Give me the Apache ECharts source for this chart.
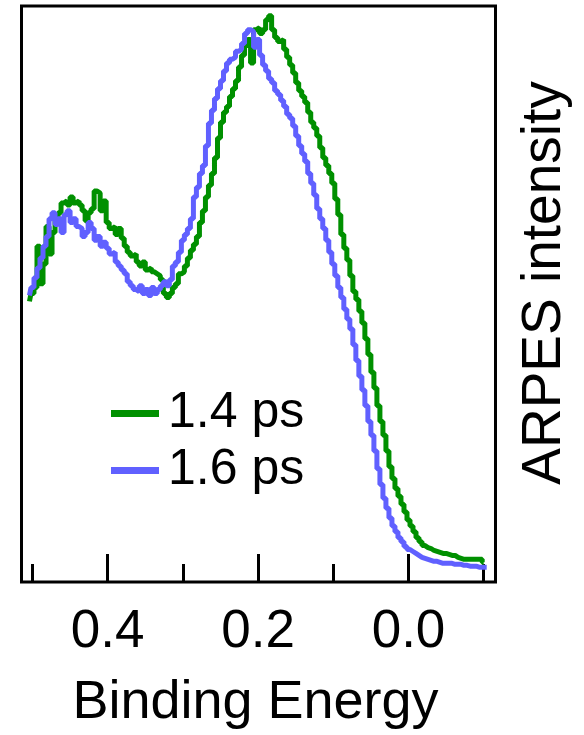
<!DOCTYPE html>
<html>
<head>
<meta charset="utf-8">
<script src="https://cdn.jsdelivr.net/npm/echarts@6.0.0/dist/echarts.min.js"></script>
<style>
  html, body { margin: 0; padding: 0; background: #fff; }
  #chart { width: 584px; height: 735px; }
</style>
</head>
<body>
<div id="chart"></div>
<script>
// binding energy (eV), shared by both traces
const energy = [
  0.504, 0.500, 0.496, 0.492, 0.488, 0.484, 0.480, 0.476, 0.472, 0.468,
  0.464, 0.460, 0.456, 0.452, 0.448, 0.444, 0.440, 0.436, 0.432, 0.428,
  0.424, 0.420, 0.416, 0.412, 0.408, 0.404, 0.400, 0.396, 0.392, 0.388,
  0.384, 0.380, 0.376, 0.372, 0.368, 0.364, 0.360, 0.356, 0.352, 0.348,
  0.344, 0.340, 0.336, 0.332, 0.328, 0.324, 0.320, 0.316, 0.312, 0.308,
  0.304, 0.300, 0.296, 0.292, 0.288, 0.284, 0.280, 0.276, 0.272, 0.268,
  0.264, 0.260, 0.256, 0.252, 0.248, 0.244, 0.240, 0.236, 0.232, 0.228,
  0.224, 0.220, 0.216, 0.212, 0.208, 0.204, 0.200, 0.196, 0.192, 0.188,
  0.184, 0.180, 0.176, 0.172, 0.168, 0.164, 0.160, 0.156, 0.152, 0.148,
  0.144, 0.140, 0.136, 0.132, 0.128, 0.124, 0.120, 0.116, 0.112, 0.108,
  0.104, 0.100, 0.096, 0.092, 0.088, 0.084, 0.080, 0.076, 0.072, 0.068,
  0.064, 0.060, 0.056, 0.052, 0.048, 0.044, 0.040, 0.036, 0.032, 0.028,
  0.024, 0.020, 0.016, 0.012, 0.008, 0.004, 0.000, -0.004, -0.008, -0.012,
  -0.016, -0.020, -0.024, -0.028, -0.032, -0.036, -0.040, -0.044, -0.048, -0.052,
  -0.056, -0.060, -0.064, -0.068, -0.072, -0.076, -0.080, -0.084, -0.088, -0.092,
  -0.096, -0.100, -0.104
];

// ARPES intensity, arbitrary units
const ps14 = [
  285, 293, 299, 341, 303, 323, 361, 333, 355, 371,
  375, 385, 387, 383, 391, 385, 387, 383, 377, 367,
  375, 379, 397, 395, 377, 387, 365, 359, 361, 353,
  359, 349, 341, 335, 331, 333, 325, 321, 325, 317,
  319, 315, 313, 311, 307, 293, 289, 293, 299, 303,
  313, 315, 321, 329, 337, 343, 351, 365, 377, 391,
  403, 415, 431, 451, 467, 477, 483, 493, 501, 509,
  523, 535, 545, 551, 527, 561, 563, 557, 561, 571,
  575, 561, 553, 549, 551, 541, 533, 525, 517, 507,
  499, 493, 487, 477, 467, 461, 453, 441, 431, 423,
  415, 405, 389, 373, 353, 339, 327, 311, 295, 287,
  275, 263, 247, 231, 213, 197, 179, 163, 149, 133,
  117, 105, 95, 87, 79, 71, 63, 57, 51, 45,
  41, 37, 35, 34, 32, 31, 30, 29, 29, 28,
  27, 27, 25, 24, 23, 23, 23, 23, 23, 23,
  23, 20
];

const ps16 = [
  291, 299, 309, 319, 329, 341, 351, 369, 375, 363,
  369, 355, 373, 377, 365, 369, 361, 359, 351, 355,
  365, 359, 347, 351, 341, 345, 339, 333, 335, 325,
  321, 317, 313, 305, 301, 297, 295, 301, 293, 297,
  291, 299, 293, 297, 301, 305, 301, 307, 321, 325,
  335, 347, 353, 359, 369, 391, 401, 415, 423, 443,
  466, 479, 491, 501, 509, 519, 527, 531, 533, 539,
  541, 547, 557, 561, 559, 543, 551, 535, 525, 519,
  511, 507, 499, 495, 489, 483, 475, 471, 463, 453,
  443, 435, 427, 415, 405, 393, 379, 369, 359, 347,
  335, 323, 311, 299, 289, 277, 267, 257, 241, 225,
  209, 195, 179, 163, 149, 133, 115, 99, 85, 75,
  65, 57, 51, 45, 41, 36, 33, 31, 29, 27,
  25, 24, 23, 22, 21, 21, 20, 19, 19, 19,
  19, 18, 18, 18, 17, 17, 16, 16, 16, 15,
  15, 15, 15
];

const majorTicks = [0.0, 0.2, 0.4];
const minorTicks = [-0.1, 0.1, 0.3, 0.5];
const names = ['1.4 ps', '1.6 ps'];
const colors = ['#009000', '#6060ff'];

const font = "'Liberation Sans', Arial, Helvetica, sans-serif";
const toPairs = ys => ys.map((y, i) => [energy[i], y]);

const chart = echarts.init(document.getElementById('chart'), null, { renderer: 'canvas' });

const xRange = { min: -0.1157, max: 0.5146, inverse: true };

chart.setOption({
  animation: false,
  backgroundColor: '#fff',
  color: colors,
  grid: {
    left: 21.5, right: 88.5, top: 6, bottom: 144,
    show: true, borderColor: '#000', borderWidth: 3
  },
  legend: {
    data: names,
    orient: 'vertical',
    left: 111,
    top: 385,
    padding: 0,
    icon: 'rect',
    itemWidth: 48,
    itemHeight: 7,
    itemGap: 0,
    selectedMode: false,
    textStyle: { fontSize: 50, lineHeight: 57, color: '#000', fontFamily: font, padding: [0, 0, 0, 4] }
  },
  xAxis: [
    {
      type: 'value', ...xRange, position: 'bottom',
      name: 'Binding Energy', nameLocation: 'middle', nameGap: 94,
      nameTextStyle: { fontSize: 54, color: '#000', fontFamily: font, padding: [0, 6, 0, 0] },
      axisLine: { show: false, onZero: false },
      axisTick: { inside: true, length: 28, lineStyle: { color: '#000', width: 3 }, customValues: majorTicks },
      axisLabel: {
        customValues: majorTicks, margin: 24, fontSize: 53, color: '#000', fontFamily: font,
        formatter: v => v.toFixed(1)
      },
      splitLine: { show: false }
    },
    {
      type: 'value', ...xRange, position: 'bottom',
      axisLine: { show: false, onZero: false },
      axisTick: { inside: true, length: 18, lineStyle: { color: '#000', width: 3 }, customValues: minorTicks },
      axisLabel: { show: false },
      splitLine: { show: false }
    }
  ],
  yAxis: {
    type: 'value', min: 0, max: 585, position: 'right',
    name: 'ARPES intensity', nameLocation: 'middle', nameRotate: 90, nameGap: 22,
    nameTextStyle: { fontSize: 55, color: '#000', fontFamily: font, padding: [0, 0, 0, 22] },
    axisLine: { show: false },
    axisTick: { show: false },
    axisLabel: { show: false },
    splitLine: { show: false }
  },
  series: [
    {
      name: names[0], type: 'line', step: 'middle', data: toPairs(ps14),
      showSymbol: false, lineStyle: { width: 5 }
    },
    {
      name: names[1], type: 'line', step: 'middle', data: toPairs(ps16),
      showSymbol: false, lineStyle: { width: 5 }
    }
  ]
});
</script>
</body>
</html>
